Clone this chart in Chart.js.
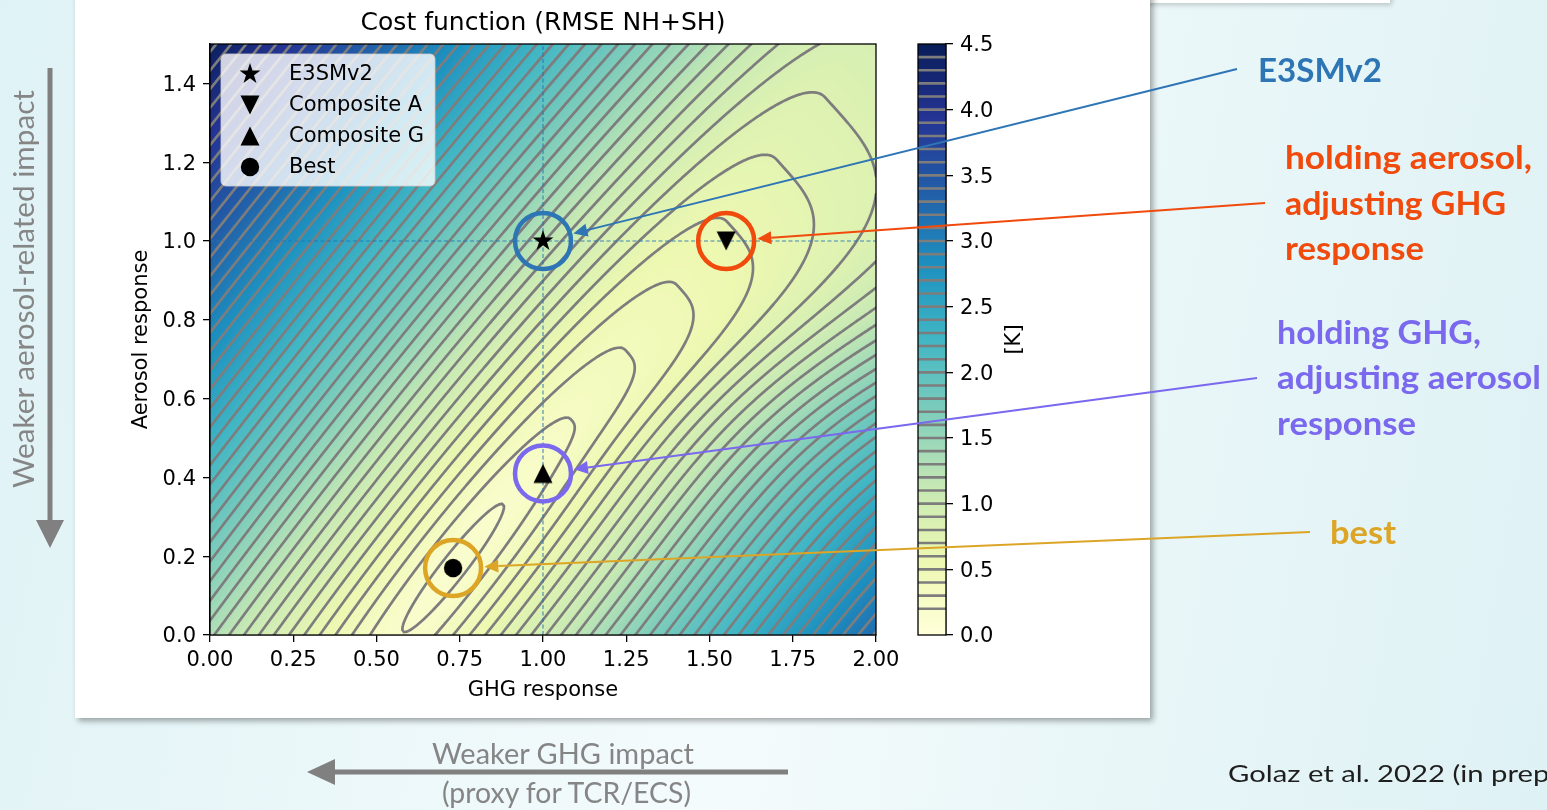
<!DOCTYPE html>
<html><head><meta charset="utf-8">
<script src="https://cdn.jsdelivr.net/npm/chart.js@4.4.1/dist/chart.umd.min.js"></script>
<style>
html,body{margin:0;padding:0;}
body{width:1547px;height:810px;overflow:hidden;position:relative;
 background:linear-gradient(100deg,#dff2f5 0%,#ecf8fa 30%,#f4fbfc 50%,#e8f6f8 75%,#def1f4 100%);}
#topbox{position:absolute;left:760px;top:-30px;width:630px;height:33px;background:#fff;box-shadow:2px 2px 5px rgba(0,0,0,0.2);}
#panel{position:absolute;left:75px;top:-10px;width:1075px;height:728px;background:#fff;box-shadow:3px 3px 6px rgba(0,0,0,0.35);}
#cb{position:absolute;left:880px;top:0;}
#main{position:absolute;left:0;top:0;}
#overlay{position:absolute;left:0;top:0;pointer-events:none;}
</style></head>
<body>
<div id="topbox"></div>
<div id="panel"></div>
<canvas id="cb" width="200" height="810"></canvas>
<canvas id="main" width="1547" height="810"></canvas>
<svg id="overlay" width="1547" height="810" xmlns="http://www.w3.org/2000/svg">
 <g font-family="Lato" font-weight="700" font-size="33">
  <text x="1258" y="82" fill="#2e75b5" textLength="124" lengthAdjust="spacingAndGlyphs">E3SMv2</text>
  <text x="1285" y="169" fill="#f04a0c" textLength="247" lengthAdjust="spacingAndGlyphs">holding aerosol,</text>
  <text x="1285" y="215" fill="#f04a0c" textLength="221" lengthAdjust="spacingAndGlyphs">adjusting GHG</text>
  <text x="1285" y="260" fill="#f04a0c" textLength="139" lengthAdjust="spacingAndGlyphs">response</text>
  <text x="1277" y="344" fill="#7a68ee" textLength="204" lengthAdjust="spacingAndGlyphs">holding GHG,</text>
  <text x="1277" y="389" fill="#7a68ee" textLength="264" lengthAdjust="spacingAndGlyphs">adjusting aerosol</text>
  <text x="1277" y="435" fill="#7a68ee" textLength="139" lengthAdjust="spacingAndGlyphs">response</text>
  <text x="1330" y="544" fill="#dca526" textLength="66" lengthAdjust="spacingAndGlyphs">best</text>
 </g>
 <g font-family="Lato" font-size="28" fill="#858585">
  <text x="432" y="764" textLength="262" lengthAdjust="spacingAndGlyphs">Weaker GHG impact</text>
  <text x="442" y="803" textLength="249" lengthAdjust="spacingAndGlyphs">(proxy for TCR/ECS)</text>
  <text transform="translate(34,488) rotate(-90)" textLength="398" lengthAdjust="spacingAndGlyphs">Weaker aerosol-related impact</text>
 </g>
 <text x="1228" y="782" font-family="Lato" font-size="24" fill="#1e1e1e" textLength="336" lengthAdjust="spacingAndGlyphs">Golaz et al. 2022 (in prep.)</text>
 <line x1="50" y1="68" x2="50" y2="522" stroke="#808080" stroke-width="5"/>
 <polygon points="36,520 64,520 50,548" fill="#808080"/>
 <line x1="788" y1="772" x2="332" y2="772" stroke="#808080" stroke-width="5"/>
 <polygon points="335,759 335,785 307,772" fill="#808080"/>
</svg>
<script>
// ---------------- data ----------------
const ghgTicks = [0, 0.25, 0.5, 0.75, 1.0, 1.25, 1.5, 1.75, 2.0];
const aerosolTicks = [0, 0.2, 0.4, 0.6, 0.8, 1.0, 1.2, 1.4];
const colorbarTicks = [0, 0.5, 1.0, 1.5, 2.0, 2.5, 3.0, 3.5, 4.0, 4.5];
const colorbarRange = [0, 4.5];
const contourLevels = [0.2,0.3,0.4,0.5,0.6,0.7,0.8,0.9,1.0,1.1,1.2,1.3,1.4,1.5,1.6,1.7,1.8,1.9,2.0,2.1,2.2,2.3,2.4,2.5,2.6,2.7,2.8,2.9,3.0,3.1,3.2,3.3,3.4,3.5,3.6,3.7,3.8,3.9,4.0,4.1,4.2,4.3,4.4];
const markerLabels = ['E3SMv2', 'Composite A', 'Composite G', 'Best'];
const markerGHG = [1.0, 1.55, 1.0, 0.73];
const markerAerosol = [1.0, 1.0, 0.41, 0.17];
// cost surface (RMSE): minimum location, valley slope,
// across/along gradients, floor value, widening of the valley's lower side
const costMinimum = [0.73, 0.17];
const costValleySlope = [1.07];
const costGradient = [2.1, 0.70];
const costFloor = [0.17];
const costSoftening = [1.2];

function cost(g, a) {
  const m = costValleySlope[0];
  const dg = g - costMinimum[0], da = a - costMinimum[1];
  const u = da - m * dg;
  const t = (dg + m * da) / (1 + m * m);
  let across = costGradient[0] * costGradient[0] * u * u;
  if (u < 0 && t > 0) { const s = costSoftening[0] * t * t * t; across *= u * u / (u * u + s * s); }
  const cv = costGradient[1] * t;
  return Math.sqrt(costFloor[0] * costFloor[0] + cv * cv + across);
}

const YLGNBU = [[255,255,217],[237,248,177],[199,233,180],[127,205,187],[65,182,196],[29,145,192],[34,94,168],[37,52,148],[8,29,88]];
function cmap(t) {
  t = Math.max(0, Math.min(1, t));
  const p = t * 8; const i = Math.min(7, Math.floor(p)); const f = p - i;
  const c0 = YLGNBU[i], c1 = YLGNBU[i + 1];
  return [c0[0] + (c1[0] - c0[0]) * f, c0[1] + (c1[1] - c0[1]) * f, c0[2] + (c1[2] - c0[2]) * f];
}

function makeMarker(kind) {
  const c = document.createElement('canvas'); c.width = 28; c.height = 28;
  const x = c.getContext('2d'); x.fillStyle = '#000'; x.translate(14, 14); x.beginPath();
  if (kind === 'star') {
    const R = 11, r = R * 0.382;
    for (let k = 0; k < 10; k++) { const ang = -Math.PI / 2 + k * Math.PI / 5; const rr = k % 2 ? r : R; x.lineTo(rr * Math.cos(ang), rr * Math.sin(ang)); }
  } else if (kind === 'down') { x.moveTo(-9.5, -9.5); x.lineTo(9.5, -9.5); x.lineTo(0, 9.5); }
  else if (kind === 'up') { x.moveTo(-9.5, 9.5); x.lineTo(9.5, 9.5); x.lineTo(0, -9.5); }
  else { x.arc(0, 0, 9.2, 0, Math.PI * 2); }
  x.closePath(); x.fill(); return c;
}
const markerStyles = [makeMarker('star'), makeMarker('down'), makeMarker('up'), makeMarker('circle')];

const FONT = 'DejaVu Sans';
Chart.defaults.font.family = FONT;

const highlight = [
  {idx: 0, color: '#2e75b5', from: [1237, 69]},
  {idx: 1, color: '#f04a0c', from: [1265, 203]},
  {idx: 2, color: '#7a68ee', from: [1257, 378]},
  {idx: 3, color: '#dca526', from: [1310, 532]}
];

const mainPlugin = {
  id: 'mainPlugin',
  beforeDatasetsDraw(chart) {
    const ctx = chart.ctx, ca = chart.chartArea, xs = chart.scales.x, ys = chart.scales.y;
    const W = Math.round(ca.right - ca.left), H = Math.round(ca.bottom - ca.top);
    const off = document.createElement('canvas'); off.width = W; off.height = H;
    const octx = off.getContext('2d'); const img = octx.createImageData(W, H);
    const vmax = colorbarRange[1];
    for (let j = 0; j < H; j++) {
      const a = ys.getValueForPixel(ca.top + j + 0.5);
      for (let i = 0; i < W; i++) {
        const g = xs.getValueForPixel(ca.left + i + 0.5);
        const c = cmap(cost(g, a) / vmax);
        const k = (j * W + i) * 4;
        img.data[k] = c[0]; img.data[k + 1] = c[1]; img.data[k + 2] = c[2]; img.data[k + 3] = 255;
      }
    }
    octx.putImageData(img, 0, 0);
    ctx.drawImage(off, ca.left, ca.top);
    // contour lines (marching squares)
    const step = 2;
    const nx = Math.ceil(W / step) + 1, ny = Math.ceil(H / step) + 1;
    const px = new Float32Array(nx), py = new Float32Array(ny);
    for (let i = 0; i < nx; i++) px[i] = ca.left + Math.min(i * step, W);
    for (let j = 0; j < ny; j++) py[j] = ca.top + Math.min(j * step, H);
    const vals = new Float32Array(nx * ny);
    for (let j = 0; j < ny; j++) { const a = ys.getValueForPixel(py[j]); for (let i = 0; i < nx; i++) vals[j * nx + i] = cost(xs.getValueForPixel(px[i]), a); }
    ctx.save();
    ctx.beginPath(); ctx.rect(ca.left, ca.top, ca.right - ca.left, ca.bottom - ca.top); ctx.clip();
    ctx.strokeStyle = '#7d7d7d'; ctx.lineWidth = 2.7; ctx.lineCap = 'round'; ctx.lineJoin = 'round';
    ctx.beginPath();
    for (let j = 0; j < ny - 1; j++) {
      for (let i = 0; i < nx - 1; i++) {
        const v0 = vals[j * nx + i], v1 = vals[j * nx + i + 1], v2 = vals[(j + 1) * nx + i + 1], v3 = vals[(j + 1) * nx + i];
        const mn = Math.min(v0, v1, v2, v3), mx = Math.max(v0, v1, v2, v3);
        const x0 = px[i], x1 = px[i + 1], y0 = py[j], y1 = py[j + 1];
        for (const L of contourLevels) {
          if (L <= mn || L > mx) continue;
          const pts = [];
          const edge = (va, vb, xa, ya, xb, yb) => { if ((va < L) !== (vb < L)) { const t = (L - va) / (vb - va); pts.push([xa + (xb - xa) * t, ya + (yb - ya) * t]); } };
          edge(v0, v1, x0, y0, x1, y0);
          edge(v1, v2, x1, y0, x1, y1);
          edge(v2, v3, x1, y1, x0, y1);
          edge(v3, v0, x0, y1, x0, y0);
          for (let p = 0; p + 1 < pts.length; p += 2) { ctx.moveTo(pts[p][0], pts[p][1]); ctx.lineTo(pts[p + 1][0], pts[p + 1][1]); }
        }
      }
    }
    ctx.stroke();
    ctx.restore();
  },
  afterDatasetsDraw(chart) {
    const ctx = chart.ctx, ca = chart.chartArea;
    ctx.save(); ctx.strokeStyle = '#000'; ctx.lineWidth = 1.3;
    ctx.strokeRect(ca.left, ca.top, ca.right - ca.left, ca.bottom - ca.top); ctx.restore();
    // legend
    const lx = ca.left + 11, ly = ca.top + 10, lw = 214, lh = 132;
    ctx.save();
    ctx.beginPath();
    if (ctx.roundRect) ctx.roundRect(lx, ly, lw, lh, 5); else ctx.rect(lx, ly, lw, lh);
    ctx.fillStyle = 'rgba(255,255,255,0.8)'; ctx.fill();
    ctx.strokeStyle = 'rgba(204,204,204,0.8)'; ctx.lineWidth = 1; ctx.stroke();
    ctx.font = '21px ' + FONT; ctx.fillStyle = '#000'; ctx.textBaseline = 'middle'; ctx.textAlign = 'left';
    markerLabels.forEach((lab, i) => {
      const yy = ly + 20 + i * 31;
      Chart.helpers.drawPoint(ctx, {pointStyle: markerStyles[i], radius: 10, rotation: 0}, lx + 29, yy);
      ctx.fillText(lab, lx + 68, yy + 1);
    });
    ctx.restore();
  },
  afterDraw(chart) {
    const ctx = chart.ctx, ca = chart.chartArea, xs = chart.scales.x, ys = chart.scales.y;
    ctx.save();
    ctx.font = '25px ' + FONT; ctx.fillStyle = '#000'; ctx.textAlign = 'center'; ctx.textBaseline = 'middle';
    ctx.fillText('Cost function (RMSE NH+SH)', (ca.left + ca.right) / 2, 23);
    ctx.restore();
    const R = 28, CW = 4.5;
    highlight.forEach(h => {
      const cx = xs.getPixelForValue(markerGHG[h.idx]), cy = ys.getPixelForValue(markerAerosol[h.idx]);
      ctx.save();
      ctx.strokeStyle = h.color; ctx.lineWidth = CW;
      ctx.beginPath(); ctx.arc(cx, cy, R, 0, Math.PI * 2); ctx.stroke();
      const [sx, sy] = h.from; const dx = sx - cx, dy = sy - cy; const d = Math.hypot(dx, dy); const ux = dx / d, uy = dy / d;
      const tx = cx + ux * (R + CW / 2 + 1), ty = cy + uy * (R + CW / 2 + 1);
      const bx = tx + ux * 14, by = ty + uy * 14;
      ctx.lineWidth = 2; ctx.beginPath(); ctx.moveTo(sx, sy); ctx.lineTo(bx, by); ctx.stroke();
      ctx.fillStyle = h.color; ctx.beginPath();
      ctx.moveTo(tx, ty); ctx.lineTo(bx - uy * 6.5, by + ux * 6.5); ctx.lineTo(bx + uy * 6.5, by - ux * 6.5); ctx.closePath(); ctx.fill();
      ctx.restore();
    });
  }
};

const refColor = 'rgba(31,119,180,0.85)';
const datasets = [
  {label: 'ref-ghg', data: [{x: markerGHG[0], y: 0}, {x: markerGHG[0], y: 1.5}], showLine: true, borderColor: refColor, borderWidth: 1.1, borderDash: [4, 2.5], pointRadius: 0, order: 3},
  {label: 'ref-aer', data: [{x: 0, y: markerAerosol[0]}, {x: 2, y: markerAerosol[0]}], showLine: true, borderColor: refColor, borderWidth: 1.1, borderDash: [4, 2.5], pointRadius: 0, order: 3}
].concat(markerLabels.map((lab, i) => ({
  label: lab, data: [{x: markerGHG[i], y: markerAerosol[i]}], pointStyle: markerStyles[i], pointRadius: 10, pointHoverRadius: 10, showLine: false, order: 1
})));

const tickFont = {family: FONT, size: 21};
new Chart(document.getElementById('main'), {
  type: 'scatter',
  data: {datasets},
  options: {
    responsive: false, animation: false, devicePixelRatio: 1, events: [],
    layout: {padding: {left: 125, top: 44, right: 671, bottom: 103}},
    plugins: {legend: {display: false}, tooltip: {enabled: false}, title: {display: false}},
    scales: {
      x: {type: 'linear', min: 0, max: 2,
        afterBuildTicks: s => { s.ticks = ghgTicks.map(v => ({value: v})); },
        afterFit: s => { s.height = 72; },
        ticks: {font: tickFont, color: '#000', padding: 6, maxRotation: 0, autoSkip: false, callback: v => Number(v).toFixed(2)},
        grid: {drawOnChartArea: false, drawTicks: true, tickLength: 7, color: '#000', lineWidth: 1.3},
        border: {display: true, color: '#000', width: 1.3},
        title: {display: true, text: 'GHG response', font: tickFont, color: '#000', padding: {top: 4, bottom: 4}}},
      y: {type: 'linear', min: 0, max: 1.5,
        afterBuildTicks: s => { s.ticks = aerosolTicks.map(v => ({value: v})); },
        afterFit: s => { s.width = 85; },
        ticks: {font: tickFont, color: '#000', padding: 7, labelOffset: 2, autoSkip: false, callback: v => Number(v).toFixed(1)},
        grid: {drawOnChartArea: false, drawTicks: true, tickLength: 7, color: '#000', lineWidth: 1.3},
        border: {display: true, color: '#000', width: 1.3},
        title: {display: true, text: 'Aerosol response', font: tickFont, color: '#000', padding: {top: 4, bottom: 4}}}
    }
  },
  plugins: [mainPlugin]
});

// ---------------- colorbar ----------------
const cbPlugin = {
  id: 'cbPlugin',
  afterDatasetsDraw(chart) {
    const ctx = chart.ctx, ca = chart.chartArea, ys = chart.scales.y;
    ctx.save();
    ctx.strokeStyle = '#7d7d7d'; ctx.lineWidth = 2.6;
    ctx.beginPath();
    contourLevels.forEach(L => { const y = ys.getPixelForValue(L); ctx.moveTo(ca.left, y); ctx.lineTo(ca.right, y); });
    ctx.stroke();
    ctx.strokeStyle = '#000'; ctx.lineWidth = 1.3;
    ctx.strokeRect(ca.left, ca.top, ca.right - ca.left, ca.bottom - ca.top);
    ctx.font = '21px ' + FONT; ctx.fillStyle = '#000'; ctx.textAlign = 'center'; ctx.textBaseline = 'middle';
    ctx.translate(135, (ca.top + ca.bottom) / 2); ctx.rotate(-Math.PI / 2);
    ctx.fillText('[K]', 0, 0);
    ctx.restore();
  }
};
new Chart(document.getElementById('cb'), {
  type: 'bar',
  data: {labels: ['cost'], datasets: [{data: [colorbarRange], borderWidth: 0, barPercentage: 1, categoryPercentage: 1,
    backgroundColor(c) {
      const ch = c.chart, ca = ch.chartArea; if (!ca) return '#ccc';
      const grd = ch.ctx.createLinearGradient(0, ca.bottom, 0, ca.top);
      YLGNBU.forEach((col, i) => grd.addColorStop(i / (YLGNBU.length - 1), 'rgb(' + col.join(',') + ')'));
      return grd;
    }}]},
  options: {
    responsive: false, animation: false, devicePixelRatio: 1, events: [],
    layout: {padding: {left: 38, top: 44, right: 48, bottom: 175}},
    plugins: {legend: {display: false}, tooltip: {enabled: false}},
    scales: {
      x: {display: false},
      y: {position: 'right', min: colorbarRange[0], max: colorbarRange[1],
        afterBuildTicks: s => { s.ticks = colorbarTicks.map(v => ({value: v})); },
        afterFit: s => { s.width = 86; },
        ticks: {font: tickFont, color: '#000', padding: 7, labelOffset: 2, autoSkip: false, callback: v => Number(v).toFixed(1)},
        grid: {drawOnChartArea: false, drawTicks: true, tickLength: 7, color: '#000', lineWidth: 1.3},
        border: {display: true, color: '#000', width: 1.3}}
    }
  },
  plugins: [cbPlugin]
});
</script>
</body></html>
